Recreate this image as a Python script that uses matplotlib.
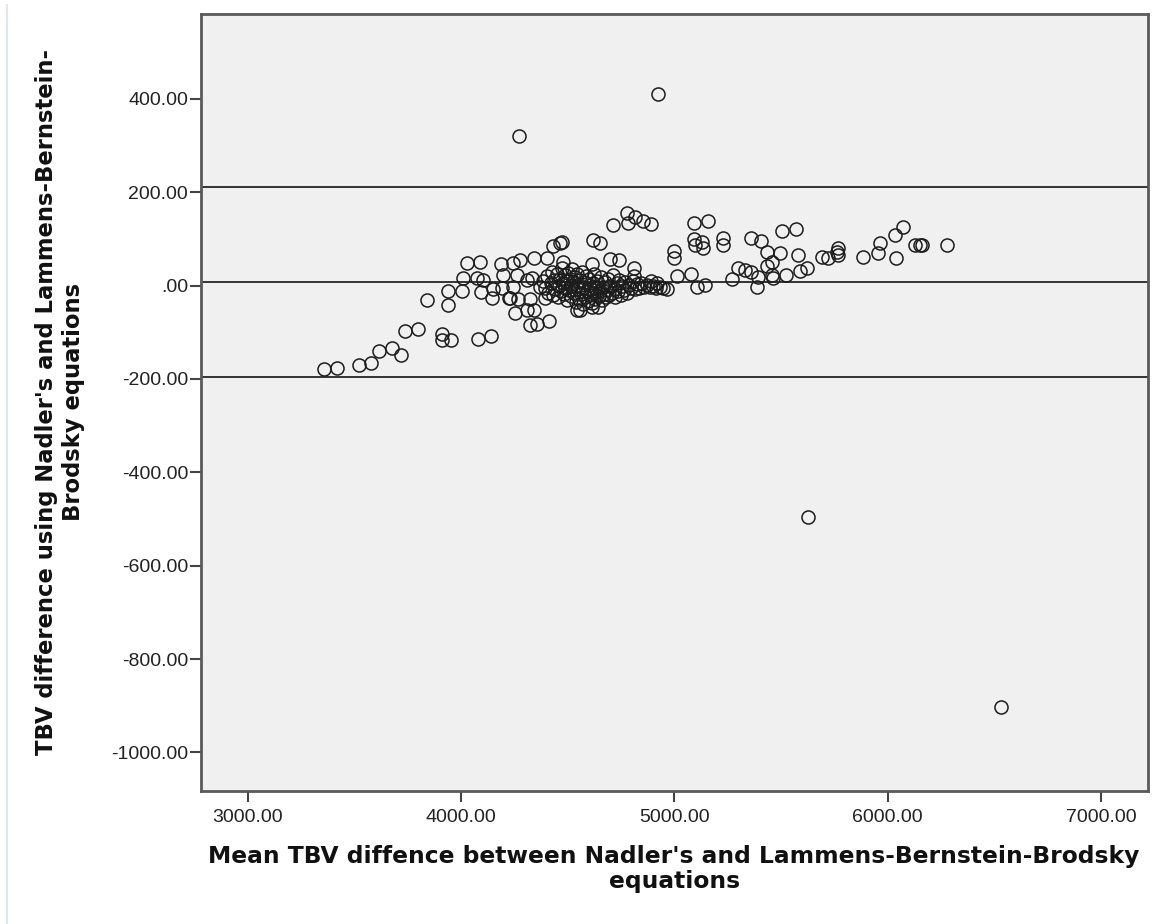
import matplotlib
matplotlib.use("Agg")
import matplotlib.pyplot as plt
from matplotlib.ticker import FuncFormatter
from matplotlib.lines import Line2D

# ---- data ----
tail_x = [3358, 3417, 3522, 3578, 3615, 3675, 3717, 3737, 3800, 3842, 3912, 3912, 3953,
          4081, 4140, 3940, 3940, 4003, 4011, 4027, 4089, 4073, 4104, 4093, 4144, 4151,
          4186, 4198, 4191, 4226, 4245, 4276, 4261, 4245, 4230, 4268, 4253, 4308, 4331,
          4323, 4311, 4342, 4323, 4355, 4414, 4342, 4402, 4430, 4472, 4370, 4394, 4479,
          4542, 4465]
tail_y = [-179, -176, -170, -166, -140, -134, -148, -97, -93, -31, -103, -116, -116,
          -115, -109, -11, -41, -11, 16, 48, 50, 16, 12, -13, -27, -8,
          46, 23, -6, -27, 48, 55, 23, -3, -27, -29, -59, 12, 16,
          -29, -52, -52, -84, -82, -75, 59, 59, 84, 94, -2, -27, 51,
          -52, 92]

dense_x = [4385, 4395, 4405, 4410, 4420, 4425, 4430, 4438, 4442, 4450, 4455, 4460, 4465,
           4468, 4472, 4478, 4482, 4486, 4490, 4494, 4498, 4502, 4506, 4510, 4514, 4518,
           4522, 4526, 4530, 4534, 4538, 4542, 4546, 4550, 4554, 4558, 4562, 4566, 4570,
           4574, 4578, 4582, 4586, 4590, 4594, 4598, 4602, 4606, 4610, 4614, 4618, 4622,
           4626, 4630, 4635, 4640, 4645, 4650, 4655, 4660, 4665, 4670, 4675, 4680, 4685,
           4690, 4695, 4700, 4706, 4712, 4718, 4724, 4730, 4736, 4742, 4748, 4755, 4762,
           4770, 4778, 4786, 4795, 4805, 4815, 4825, 4835, 4845, 4858, 4870, 4885, 4900,
           4915, 4933, 4948, 4964]
dense_y = [10, -5, 20, -15, 5, 30, -20, 12, -8, 25, -25, 0, 15,
           -12, 38, 5, -18, 22, -5, 10, -30, 28, -10, 15, 0, -22,
           35, 8, -15, 18, -35, 2, 25, -8, -28, 12, -18, 30, -40,
           -5, 8, -25, 20, -12, -32, 2, 15, -20, -8, -38, 5, -15,
           25, -28, -5, 10, -22, -12, 18, -30, -2, -18, 8, -25, -10,
           15, -20, 0, -15, 22, -8, -25, 5, -12, 12, -20, 0, -10,
           8, -15, 2, -5, 10, -8, 3, -5, 5, -3, 2, -2, 0,
           -5, -3, -6, -8]

mid_x = [4620, 4651, 4714, 4777, 4784, 4815, 4854, 4889, 4698, 4742, 4612, 4811, 4811,
         5000, 5000, 5011, 5077, 5107, 5144, 5093, 5159, 5093, 5128, 5097, 5133, 4558,
         4612, 4643, 4889, 4917]
mid_y = [98, 92, 130, 155, 134, 148, 139, 132, 57, 54, 46, 37, 21,
         75, 59, 21, 25, -3, 2, 134, 139, 99, 94, 87, 80, -52,
         -45, -45, 9, 6]

right_x = [5229, 5229, 5362, 5405, 5503, 5570, 5433, 5495, 5581, 5456, 5433, 5269, 5300,
           5331, 5362, 5393, 5386, 5456, 5464, 5523, 5589, 5623, 5691, 5722, 5761, 5768,
           5768, 5886, 5956, 5964, 6034, 6039, 6073, 6128, 6151, 6159, 6277]
right_y = [101, 87, 101, 96, 116, 121, 71, 69, 66, 51, 41, 14, 37,
           34, 30, 19, -2, 23, 16, 23, 32, 37, 61, 59, 73, 80,
           66, 61, 69, 91, 109, 59, 126, 87, 87, 87, 87]

outlier_x = [4272, 4923, 5626, 6531]
outlier_y = [321, 411, -496, -902]

ref_lines = [212, 7.9, -195]   # upper limit, mean difference, lower limit

x_ticks = [3000, 4000, 5000, 6000, 7000]
y_ticks = [400, 200, 0, -200, -400, -600, -800, -1000]

xlabel = "Mean TBV diffence between Nadler's and Lammens-Bernstein-Brodsky\nequations"
ylabel = "TBV difference using Nadler's and Lammens-Bernstein-\nBrodsky equations"

# ---- figure ----
fig = plt.figure(figsize=(11.54, 9.24), dpi=100)
ax = fig.add_axes([0.1739, 0.1443, 0.8206, 0.8406])
ax.set_facecolor("#f0f0f0")

xs = tail_x + dense_x + mid_x + right_x + outlier_x
ys = tail_y + dense_y + mid_y + right_y + outlier_y
ax.plot(xs, ys, linestyle="none", marker="o", markersize=9.4,
        markerfacecolor="none", markeredgecolor="#1c1c1c", markeredgewidth=1.1, zorder=3)

for v in ref_lines:
    ax.axhline(v, color="#333333", linewidth=1.4, zorder=2)

ax.set_xlim(2780, 7219)
ax.set_ylim(-1082, 582)
ax.set_xticks(x_ticks)
ax.set_yticks(y_ticks)

def fmt(v, pos):
    s = f"{v:.2f}"
    if s in ("0.00", "-0.00"):
        return ".00"
    return s

ax.xaxis.set_major_formatter(FuncFormatter(fmt))
ax.yaxis.set_major_formatter(FuncFormatter(fmt))

for sp in ax.spines.values():
    sp.set_color("#5a5a5a")
    sp.set_linewidth(2.0)

ax.tick_params(axis="both", direction="out", length=8, width=1.5, color="#444444",
               labelsize=14, labelcolor="#222222")
ax.tick_params(axis="y", pad=1)
ax.tick_params(axis="x", pad=5)
for lab in ax.get_xticklabels() + ax.get_yticklabels():
    lab.set_fontfamily("Liberation Sans")

ax.set_xlabel(xlabel, fontfamily="DejaVu Sans", fontweight="bold", fontsize=16.8,
              linespacing=1.12, labelpad=14, color="#111111")
ax.set_ylabel(ylabel, fontfamily="DejaVu Sans", fontweight="bold", fontsize=16.3,
              linespacing=1.2, labelpad=19, color="#111111")

# faint vertical line at left edge of the image
fig.add_artist(Line2D([7 / 1154, 7 / 1154], [0, 1 - 5 / 924], transform=fig.transFigure,
                      color="#e2e7ee", linewidth=1.5))

fig.savefig("out.png", dpi=100, facecolor="white")
